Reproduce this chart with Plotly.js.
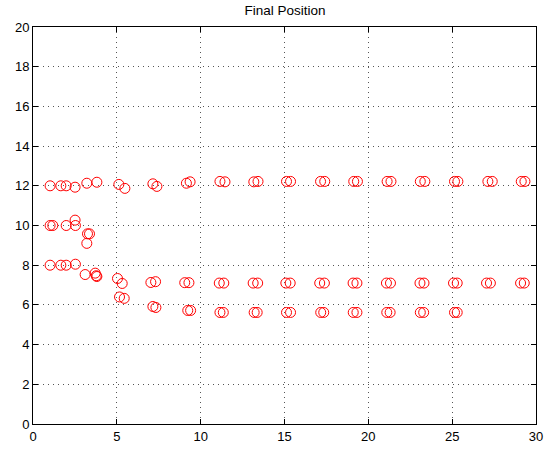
<!DOCTYPE html>
<html>
<head>
<meta charset="utf-8">
<script src="https://cdn.plot.ly/plotly-3.0.1.min.js"></script>
<style>html,body{margin:0;padding:0;background:#fff;}#chart{width:546px;height:452px;}</style>
</head>
<body>
<div id="chart"></div>
<script>
// Upper group (around y = 12)
const xUpper = [1.02,1.66,1.98,2.51,3.21,3.81,5.12,5.48,7.15,7.39,
  9.15,9.37,11.15,11.45,13.17,13.42,15.12,15.36,17.15,17.4,19.13,19.35,21.12,21.35,23.1,23.37,25.14,25.34,27.13,27.39,29.12,29.34];
const yUpper = [12.0,12.0,12.0,11.93,12.13,12.18,12.07,11.87,12.1,11.97,
  12.13,12.2,12.22,12.2,12.2,12.22,12.22,12.22,12.22,12.22,12.22,12.22,12.22,12.22,12.22,12.22,12.22,12.22,12.22,12.22,12.22,12.22];
// Middle group (around y = 10)
const xMiddle = [1.02,1.18,1.98,2.51,2.53,3.25,3.37,3.21];
const yMiddle = [10.0,10.0,10.0,10.27,10.0,9.58,9.58,9.1];
// Lower group (around y = 8 -> 7.1 and 5.6)
const xLower = [1.02,1.66,1.98,2.53,3.11,3.71,3.77,3.81,5.04,5.32,5.16,5.44,7.03,7.31,7.15,7.33,
  9.05,9.3,9.23,9.4,11.11,11.38,11.15,11.35,13.13,13.4,13.19,13.37,15.08,15.34,15.12,15.36,
  17.1,17.38,17.16,17.34,19.09,19.32,19.1,19.32,21.08,21.32,21.1,21.3,23.08,23.32,23.1,23.3,
  25.08,25.3,25.14,25.3,27.05,27.28,29.08,29.3];
const yLower = [8.0,8.0,8.0,8.05,7.53,7.6,7.47,7.43,7.33,7.08,6.4,6.33,7.13,7.17,5.92,5.87,
  7.12,7.12,5.72,5.72,7.1,7.1,5.62,5.62,7.1,7.1,5.62,5.62,7.1,7.1,5.62,5.62,
  7.1,7.1,5.62,5.62,7.1,7.1,5.62,5.62,7.1,7.1,5.62,5.62,7.1,7.1,5.62,5.62,
  7.1,7.1,5.62,5.62,7.1,7.1,7.1,7.1];

const xTicks = [0,5,10,15,20,25,30];
const yTicks = [0,2,4,6,8,10,12,14,16,18,20];

const xs = xUpper.concat(xMiddle, xLower);
const ys = yUpper.concat(yMiddle, yLower);

const trace = {
  x: xs, y: ys, type: 'scatter', mode: 'markers',
  marker: {symbol: 'circle-open', size: 10, color: '#ff0000', line: {width: 1, color: '#ff0000'}},
  hoverinfo: 'none'
};

const axisCommon = {
  showline: true, linecolor: '#000', linewidth: 1, mirror: 'ticks',
  ticks: 'inside', ticklen: 5, tickcolor: '#000',
  showgrid: true, gridcolor: '#555', griddash: '1px,4px', gridwidth: 1,
  zeroline: false, tickfont: {family: 'Liberation Sans, Arial, sans-serif', size: 13, color: '#000'}
};

const layout = {
  width: 546, height: 452,
  margin: {l: 33, r: 10, t: 27, b: 28, pad: 0},
  paper_bgcolor: '#fff', plot_bgcolor: '#fff',
  showlegend: false,
  title: {text: 'Final Position', x: 0.522, xanchor: 'center', y: 0.978, yanchor: 'middle',
    font: {family: 'Liberation Sans, Arial, sans-serif', size: 13.5, color: '#000'}},
  xaxis: Object.assign({}, axisCommon, {range: [0, 30], tickvals: xTicks, ticktext: xTicks.map(String)}),
  yaxis: Object.assign({}, axisCommon, {range: [0, 20], tickvals: yTicks, ticktext: yTicks.map(String)})
};

Plotly.newPlot('chart', [trace], layout, {staticPlot: true, displayModeBar: false});
</script>
</body>
</html>
